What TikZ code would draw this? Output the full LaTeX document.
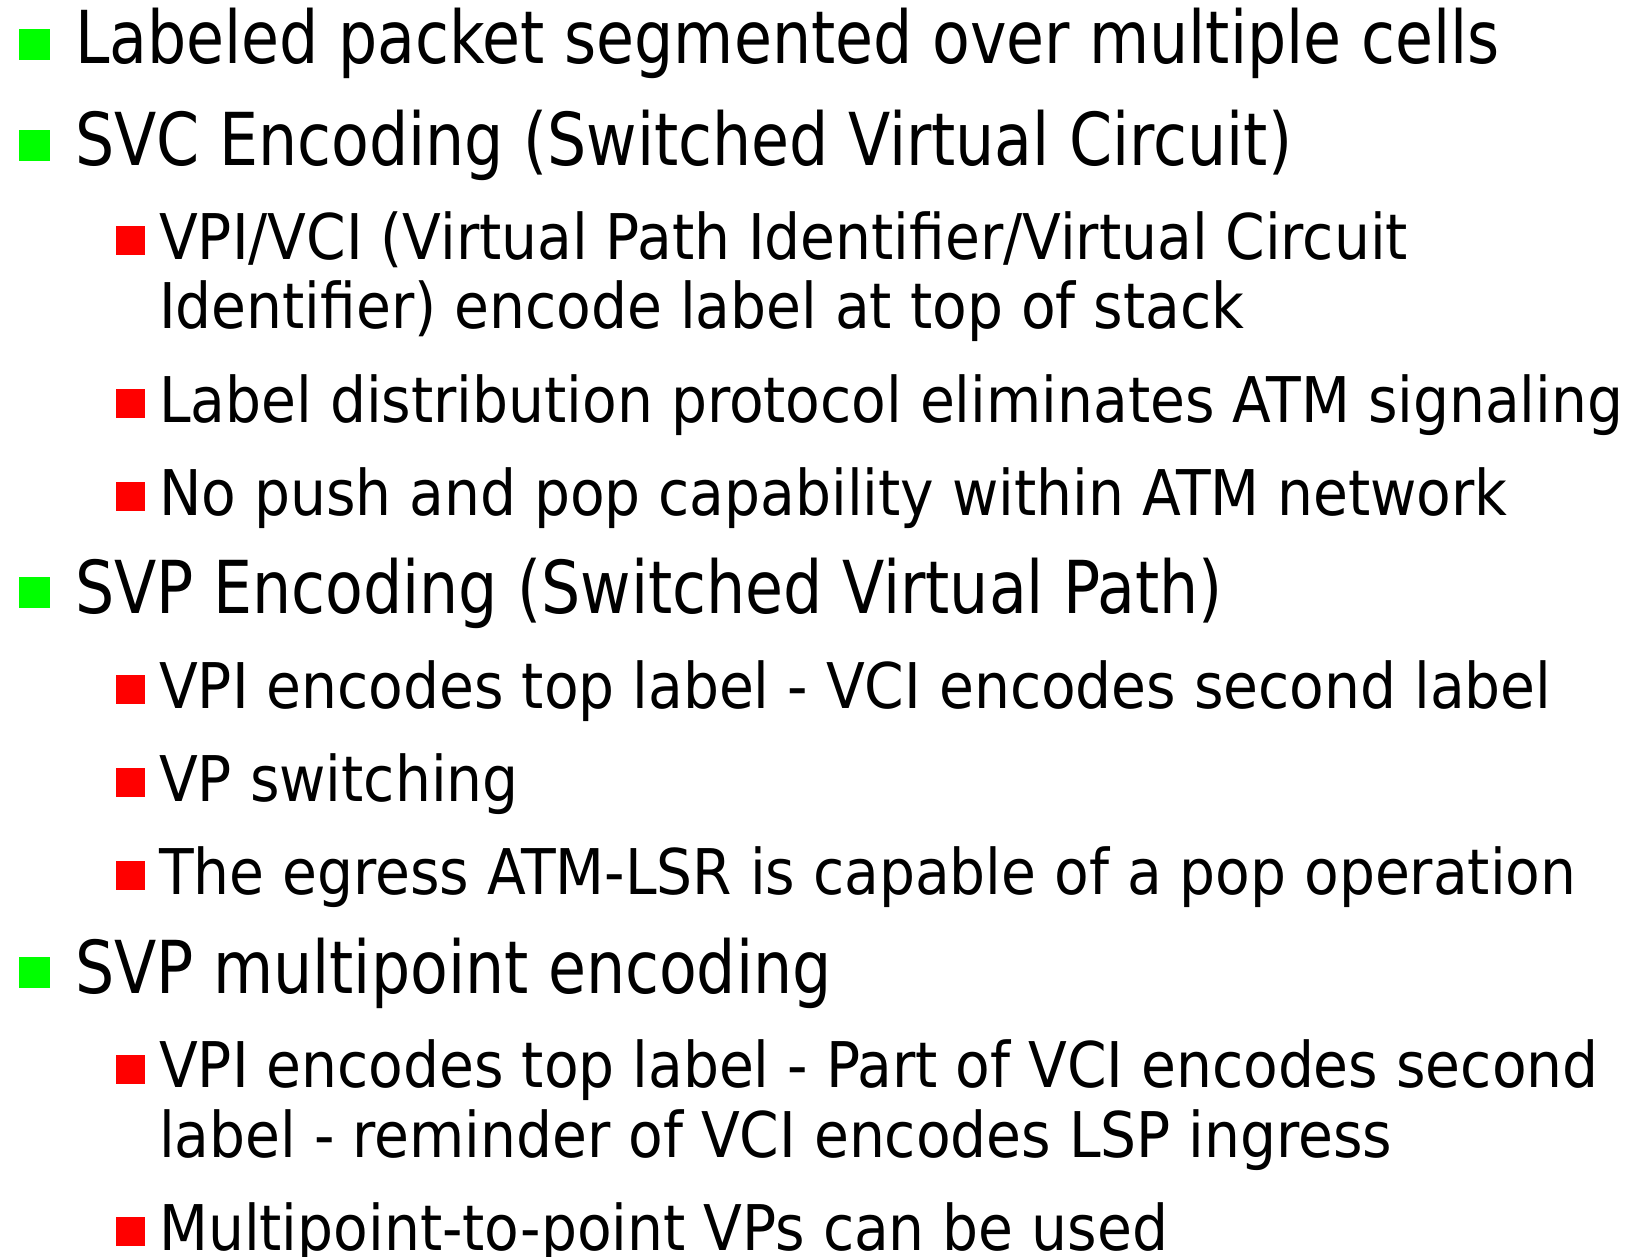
\documentclass[tikz,border=0pt]{standalone}
\usepackage{fontspec}
\setmainfont{DejaVu Sans Condensed}
\newfontfamily\headfont[FakeStretch=0.94]{DejaVu Sans Condensed}
\definecolor{bulletgreen}{HTML}{00FF00}
\definecolor{bulletred}{HTML}{FF0000}
\begin{document}
\begin{tikzpicture}[x=1pt,y=1pt,
  toptext/.style={anchor=base west,inner sep=0pt,font=\headfont\fontsize{73}{80}\selectfont},
  subtext/.style={anchor=base west,inner sep=0pt,font=\fontsize{63}{69}\selectfont},
  topbullet/.style={fill=bulletgreen,draw=none,minimum size=31pt,inner sep=0pt,anchor=north west},
  subbullet/.style={fill=bulletred,draw=none,minimum size=29pt,inner sep=0pt,anchor=north west}]
\useasboundingbox[fill=white] (0,0) rectangle (1637,-1257);

% level-one items
\node[topbullet] (b1) at (19,-29) {};
\node[toptext] (t1) at (75,-64) {Labeled packet segmented over multiple cells};
\node[topbullet] (b2) at (19,-130) {};
\node[toptext] (t2) at (75,-166) {SVC Encoding (Switched Virtual Circuit)};

% SVC sub-items
\node[subbullet] (b21) at (116,-226) {};
\node[subtext] (t21a) at (159,-259) {VPI/VCI (Virtual Path Identifier/Virtual Circuit};
\node[subtext] (t21b) at (159,-328) {Identifier) encode label at top of stack};
\node[subbullet] (b22) at (116,-389) {};
\node[subtext] (t22) at (159,-422) {Label distribution protocol eliminates ATM signaling};
\node[subbullet] (b23) at (116,-482) {};
\node[subtext] (t23) at (159,-515) {No push and pop capability within ATM network};

\node[topbullet] (b3) at (19,-577) {};
\node[toptext] (t3) at (75,-613) {SVP Encoding (Switched Virtual Path)};

% SVP sub-items
\node[subbullet] (b31) at (116,-675) {};
\node[subtext] (t31) at (159,-708) {VPI encodes top label - VCI encodes second label};
\node[subbullet] (b32) at (116,-768) {};
\node[subtext] (t32) at (159,-801) {VP switching};
\node[subbullet] (b33) at (116,-861) {};
\node[subtext] (t33) at (159,-894) {The egress ATM-LSR is capable of a pop operation};

\node[topbullet] (b4) at (19,-957) {};
\node[toptext] (t4) at (75,-993) {SVP multipoint encoding};

% multipoint sub-items
\node[subbullet] (b41) at (116,-1055) {};
\node[subtext] (t41a) at (159,-1087) {VPI encodes top label - Part of VCI encodes second};
\node[subtext] (t41b) at (159,-1157) {label - reminder of VCI encodes LSP ingress};
\node[subbullet] (b42) at (116,-1217) {};
\node[subtext] (t42) at (159,-1250) {Multipoint-to-point VPs can be used};
\end{tikzpicture}
\end{document}
